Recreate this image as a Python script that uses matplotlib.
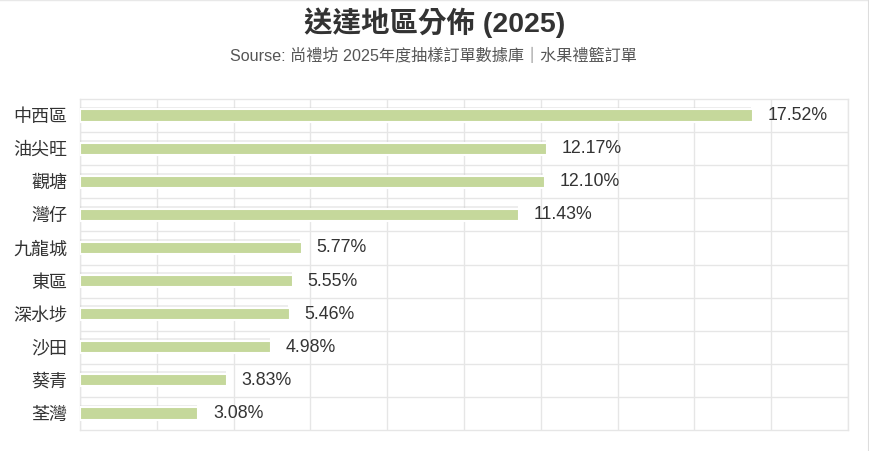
import matplotlib
matplotlib.use("Agg")
import matplotlib.pyplot as plt
import matplotlib.patheffects as pe
from matplotlib.lines import Line2D

plt.rcParams['font.family'] = ['Liberation Sans', 'Noto Sans CJK TC', 'DejaVu Sans']

regions = ["中西區", "油尖旺", "觀塘", "灣仔", "九龍城", "東區", "深水埗", "沙田", "葵青", "荃灣"]
shares = [17.52, 12.17, 12.10, 11.43, 5.77, 5.55, 5.46, 4.98, 3.83, 3.08]

title = "送達地區分佈 (2025)"
subtitle = "Sourse: 尚禮坊 2025年度抽樣訂單數據庫｜水果禮籃訂單"

fig = plt.figure(figsize=(8.7, 4.51), dpi=100)
ax = fig.add_axes([80 / 870, 1 - 430 / 451, 768 / 870, 331 / 451])

ypos = list(range(len(regions)))
bars = ax.barh(ypos, shares, height=0.37, color="#c5d89b",
               edgecolor="white", linewidth=1.5, zorder=3)
for b in bars:
    b.set_path_effects([pe.SimplePatchShadow(offset=(-1, 2), shadow_rgbFace="#bbbbbb", alpha=0.25),
                        pe.Normal()])

for y, v in zip(ypos, shares):
    ax.text(v + 0.38, y, f"{v:.2f}%", va="center", ha="left",
            fontsize=12.8, color="#333333", zorder=4)

ax.set_xlim(0, 20)
ax.set_ylim(len(regions) - 0.5, -0.5)
ax.set_xticks(range(0, 21, 2))
ax.set_xticklabels([])
ax.set_yticks([y + 0.5 for y in ypos[:-1]], minor=True)
ax.set_yticks(ypos)
ax.set_yticklabels(regions, fontsize=13, color="#333333")
ax.tick_params(axis="y", which="both", length=0, pad=9)
ax.tick_params(axis="x", length=0)
ax.grid(axis="x", color="#e6e6e6", linewidth=1, zorder=0)
ax.grid(axis="y", which="minor", color="#e6e6e6", linewidth=1, zorder=0)
for s in ax.spines.values():
    s.set_color("#e6e6e6")
    s.set_linewidth(1)

fig.text(0.5, 1 - 23 / 451, title, ha="center", va="center",
         fontsize=20.5, fontweight="bold", color="#333333")
fig.text(0.498, 1 - 56 / 451, subtitle, ha="center", va="center",
         fontsize=11.6, color="#555555")

# card border
fig.add_artist(Line2D([0, 1], [0.999, 0.999], transform=fig.transFigure, color="#e8e8e8", lw=1))
fig.add_artist(Line2D([0.9985, 0.9985], [0, 1], transform=fig.transFigure, color="#dddddd", lw=1.5))

fig.savefig("out.png", dpi=100)
